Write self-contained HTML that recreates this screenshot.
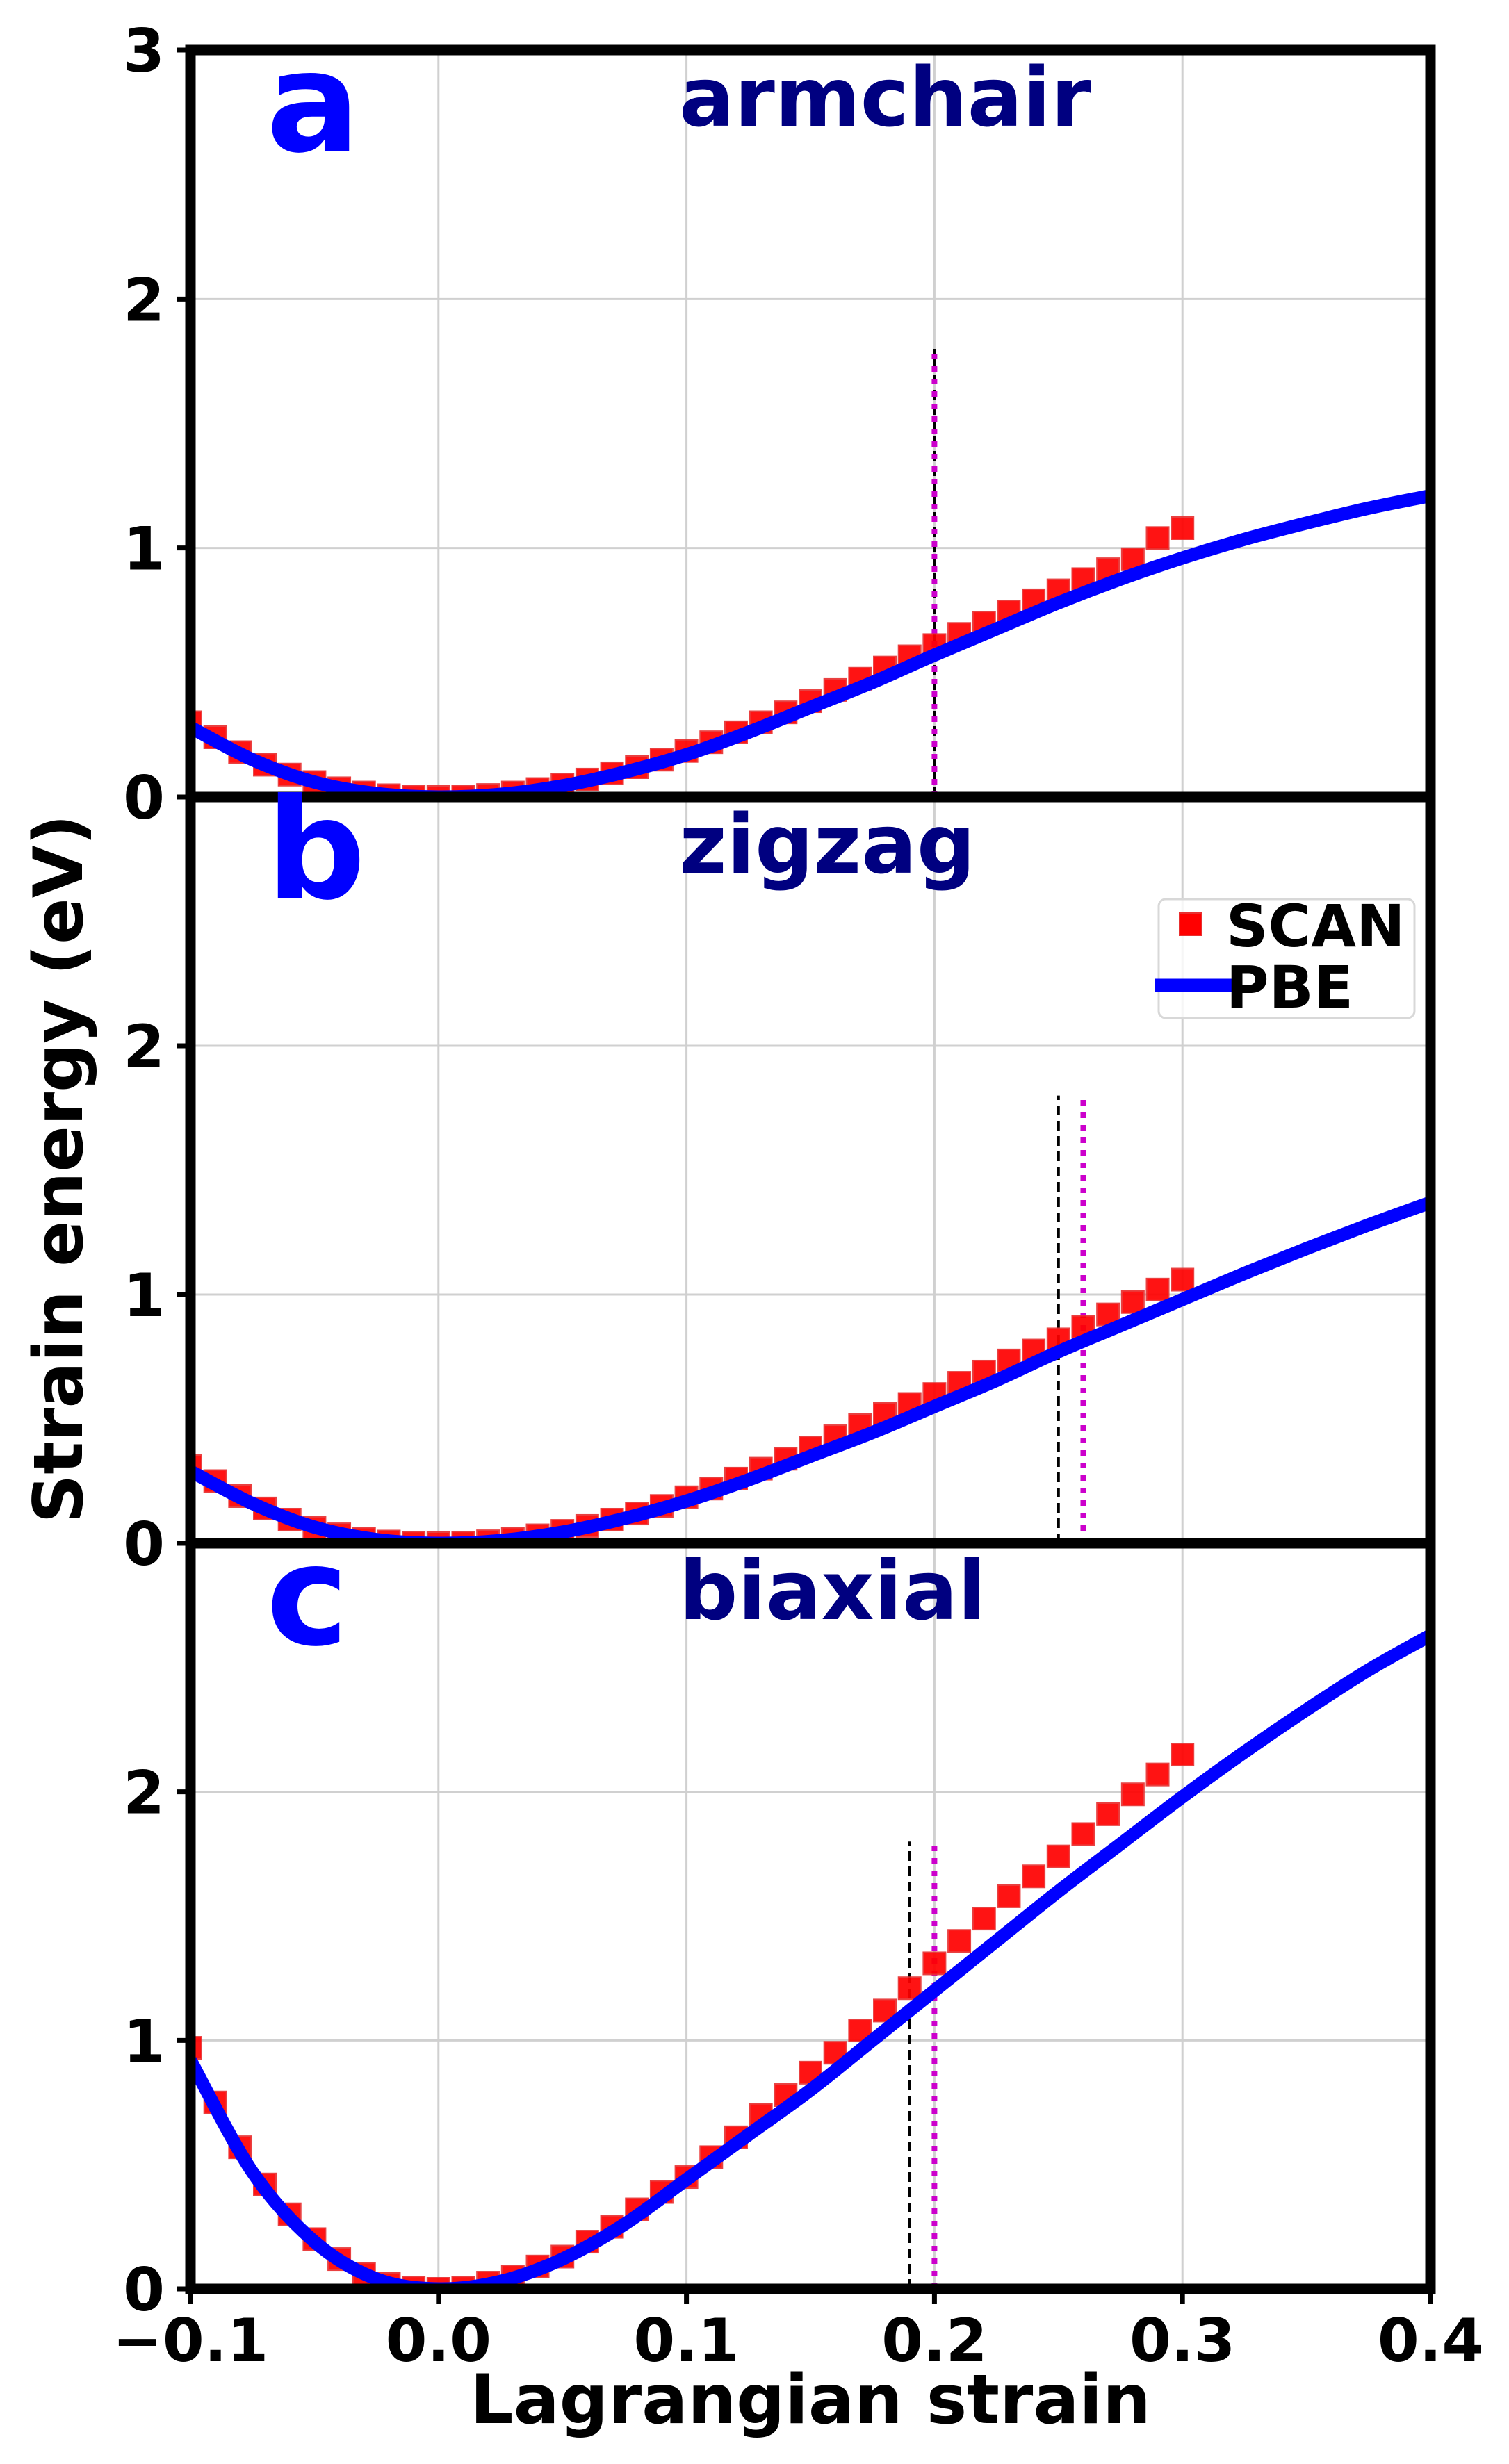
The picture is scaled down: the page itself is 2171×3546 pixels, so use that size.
<!DOCTYPE html>
<html><head><meta charset="utf-8">
<style>
html,body{margin:0;padding:0;background:#fff;}
svg{display:block;font-family:"DejaVu Sans","Liberation Sans",sans-serif;font-weight:bold;}
</style></head>
<body>
<svg id="chart" width="2171" height="3546" viewBox="0 0 2171 3546" xmlns="http://www.w3.org/2000/svg"></svg>
<script>
// ---- data ----
const scanX = [-0.1,-0.09,-0.08,-0.07,-0.06,-0.05,-0.04,-0.03,-0.02,-0.01,0,0.01,0.02,0.03,0.04,0.05,0.06,0.07,0.08,0.09,0.1,0.11,0.12,0.13,0.14,0.15,0.16,0.17,0.18,0.19,0.2,0.21,0.22,0.23,0.24,0.25,0.26,0.27,0.28,0.29,0.3];
const scanArmchair = [0.30,0.24,0.18,0.13,0.09,0.06,0.035,0.018,0.007,0.002,0,0.002,0.008,0.018,0.032,0.05,0.07,0.095,0.12,0.15,0.185,0.22,0.26,0.30,0.34,0.385,0.43,0.475,0.52,0.565,0.61,0.655,0.70,0.745,0.79,0.83,0.875,0.915,0.955,1.04,1.08];
const scanZigzag = [0.31,0.25,0.19,0.14,0.095,0.062,0.036,0.018,0.007,0.002,0,0.002,0.008,0.018,0.032,0.05,0.07,0.095,0.12,0.15,0.185,0.22,0.26,0.30,0.34,0.385,0.43,0.475,0.52,0.56,0.60,0.645,0.69,0.735,0.775,0.82,0.87,0.92,0.97,1.02,1.06];
const scanBiaxial = [0.97,0.75,0.57,0.42,0.30,0.20,0.12,0.06,0.02,0.005,0,0.005,0.025,0.05,0.09,0.13,0.19,0.25,0.32,0.39,0.45,0.53,0.61,0.70,0.78,0.87,0.95,1.04,1.12,1.21,1.31,1.40,1.49,1.58,1.66,1.74,1.83,1.91,1.99,2.07,2.15];
const pbeX = [-0.1,-0.075,-0.05,-0.025,0,0.025,0.05,0.075,0.1,0.125,0.15,0.175,0.2,0.225,0.25,0.275,0.3,0.325,0.35,0.375,0.4];
const pbeArmchair = [0.28,0.15,0.06,0.014,0,0.011,0.045,0.10,0.17,0.26,0.36,0.46,0.57,0.675,0.78,0.875,0.96,1.035,1.10,1.16,1.21];
const pbeZigzag = [0.29,0.16,0.065,0.015,0,0.011,0.045,0.10,0.17,0.255,0.35,0.445,0.55,0.655,0.77,0.875,0.98,1.085,1.185,1.28,1.37];
const pbeBiaxial = [0.92,0.47,0.19,0.04,0,0.03,0.12,0.26,0.44,0.62,0.80,1.00,1.20,1.40,1.60,1.79,1.98,2.16,2.33,2.49,2.63];
const panelTitles = ["armchair","zigzag","biaxial"];
const panelLetters = ["a","b","c"];
const blackLines = [0.20,0.25,0.19];
const magentaLines = [0.20,0.26,0.20];
const vlineTop = 1.8;
const xTicks = [-0.1,0.0,0.1,0.2,0.3,0.4];
const xTickLabels = ["\u22120.1","0.0","0.1","0.2","0.3","0.4"];
const yTicks = [0,1,2,3];

// ---- layout ----
const svg = document.getElementById('chart');
const NS = 'http://www.w3.org/2000/svg';
const L = 274, R = 2058;
const panelTops = [72,1147,2221];
const panelBots = [1147,2221,3294];
const xMin=-0.1, xMax=0.4, yMax=3;
function X(v){return L+(v-xMin)/(xMax-xMin)*(R-L);}
function Yf(p){const t=panelTops[p], b=panelBots[p];return v=>b-(v/yMax)*(b-t);}
function mk(tag,attrs,parent){const e=document.createElementNS(NS,tag);for(const k in attrs)e.setAttribute(k,attrs[k]);(parent||svg).appendChild(e);return e;}
function smooth(pts){let d='M'+pts[0][0]+','+pts[0][1];for(let i=0;i<pts.length-1;i++){const p0=pts[Math.max(i-1,0)],p1=pts[i],p2=pts[i+1],p3=pts[Math.min(i+2,pts.length-1)];
const c1=[p1[0]+(p2[0]-p0[0])/6,p1[1]+(p2[1]-p0[1])/6],c2=[p2[0]-(p3[0]-p1[0])/6,p2[1]-(p3[1]-p1[1])/6];
d+=' C'+c1[0]+','+c1[1]+' '+c2[0]+','+c2[1]+' '+p2[0]+','+p2[1];}return d;}

const scanSets=[scanArmchair,scanZigzag,scanBiaxial];
const pbeSets=[pbeArmchair,pbeZigzag,pbeBiaxial];

for(let p=0;p<3;p++){
  const Y=Yf(p);
  const g=mk('g',{});
  
  
  const clipId='clip'+p;
  const cp=mk('clipPath',{id:clipId},g);
  mk('rect',{x:L,y:panelTops[p],width:R-L,height:panelBots[p]-panelTops[p]},cp);
  xTicks.forEach(v=>{const l=mk('line',{x1:X(v),x2:X(v),y1:panelTops[p],y2:panelBots[p],stroke:'#d0d0d0','stroke-width':3},g);
    });
  yTicks.forEach(v=>{if(v>0&&v<3){const l=mk('line',{x1:L,x2:R,y1:Y(v),y2:Y(v),stroke:'#d0d0d0','stroke-width':3},g);
    }});
  const inner=mk('g',{'clip-path':'url(#'+clipId+')'},g);
  const bl=mk('line',{x1:X(blackLines[p]),x2:X(blackLines[p]),y1:Y(0),y2:Y(vlineTop),stroke:'#000','stroke-width':4,'stroke-dasharray':'14 8'},inner);
  
  const ml=mk('line',{x1:X(magentaLines[p]),x2:X(magentaLines[p]),y1:Y(0),y2:Y(vlineTop),stroke:'#cc00cc','stroke-width':8,'stroke-dasharray':'8 10'},inner);
  
  scanX.forEach((xv,i)=>{const s=mk('rect',{x:X(xv)-16,y:Y(scanSets[p][i])-16,width:32,height:32,fill:'#ff0000',stroke:'#e83030','stroke-width':2,opacity:0.92},inner);
    });
  const pts=pbeX.map((xv,i)=>[X(xv),Y(pbeSets[p][i])]);
  const c=mk('path',{d:smooth(pts),fill:'none',stroke:'#0000ff','stroke-width':19,'stroke-linecap':'butt'},inner);
  
  const fr=mk('rect',{x:L,y:panelTops[p],width:R-L,height:panelBots[p]-panelTops[p],fill:'none',stroke:'#000','stroke-width':15},g);
  
  yTicks.forEach(v=>{if(v===3&&p>0)return;
    mk('line',{x1:L-20,x2:L,y1:Y(v),y2:Y(v),stroke:'#000','stroke-width':7},g);
    const t=mk('text',{x:237,y:Y(v)+31,'text-anchor':'end','font-size':86,fill:'#000'},g);
    t.textContent=String(v);
    });
  const lt=mk('text',{x:383,y:panelTops[p]+145,'font-size':200,fill:'#0000ff'},g);
  lt.textContent=panelLetters[p];
  
  const tt=mk('text',{x:977,y:panelTops[p]+109,'font-size':118,fill:'#000080'},g);
  tt.textContent=panelTitles[p];
  
}
xTicks.forEach((v,i)=>{mk('line',{x1:X(v),x2:X(v),y1:3294,y2:3316,stroke:'#000','stroke-width':7});
  const t=mk('text',{x:X(v),y:3398,'text-anchor':'middle','font-size':86,fill:'#000'});
  t.textContent=xTickLabels[i];
  });
const xt=mk('text',{x:1166,y:3487,'text-anchor':'middle','font-size':98,fill:'#000'});
xt.textContent='Lagrangian strain';

const yt=mk('text',{x:0,y:0,'text-anchor':'middle','font-size':98,fill:'#000',transform:'translate(118,1682) rotate(-90)'});
yt.textContent='Strain energy (eV)';

const lg=mk('g',{});

mk('rect',{x:1667,y:1294,width:368,height:171,rx:10,fill:'#fff','fill-opacity':0.8,stroke:'#d8d8d8','stroke-width':3},lg);
mk('rect',{x:1697,y:1314,width:32,height:32,fill:'#ff0000',stroke:'#e83030','stroke-width':2},lg);
const ls=mk('text',{x:1764,y:1362,'font-size':84,fill:'#000'},lg);
ls.textContent='SCAN';

mk('line',{x1:1662,x2:1775,y1:1418,y2:1418,stroke:'#0000ff','stroke-width':19},lg);
const lp=mk('text',{x:1764,y:1450,'font-size':84,fill:'#000'},lg);
lp.textContent='PBE';

</script>
</body></html>
